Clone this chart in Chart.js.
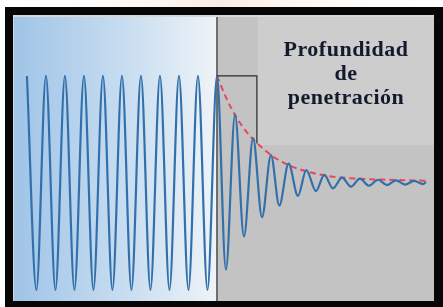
<!DOCTYPE html>
<html>
<head>
<meta charset="utf-8">
<script src="https://cdn.jsdelivr.net/npm/chart.js@4.4.1/dist/chart.umd.min.js"></script>
<style>
    html, body { margin: 0; padding: 0; background: #fff; overflow: hidden; }
    #wrap { position: relative; width: 443px; height: 307px; }
    canvas { display: block; }
    #label {
        position: absolute; left: 258px; width: 176px; top: 37px;
        text-align: center; font: bold 22px "Liberation Serif", "DejaVu Serif", serif;
        letter-spacing: 0.5px; line-height: 24px; color: #141a2c;
    }
</style>
</head>
<body>
<div id="wrap">
    <canvas id="waveChart" width="443" height="307"></canvas>
    <div id="label">Profundidad<br>de<br>penetración</div>
</div>
<script>
// wave: peaks and troughs, x in wave units (0 = surface), y in amplitude
const waveX = [-10, -9.5, -9, -8.5, -8, -7.5, -7, -6.5, -6, -5.5, -5, -4.5, -4, -3.5, -3, -2.5, -2, -1.5, -1, -0.5, 0,
    0.47, 0.95, 1.42, 1.9, 2.37, 2.84, 3.28, 3.77, 4.26, 4.7, 5.21, 5.65, 6.1, 6.58, 7.05, 7.52, 8.0, 8.47, 8.95, 9.42, 9.9, 10.37, 10.85, 11.0];
const waveY = [1, -1, 1, -1, 1, -1, 1, -1, 1, -1, 1, -1, 1, -1, 1, -1, 1, -1, 1, -1, 1,
    -0.81, 0.64, -0.5, 0.42, -0.32, 0.26, -0.21, 0.18, -0.12, 0.12, -0.075, 0.075, -0.05, 0.05, -0.035, 0.04, -0.025, 0.03, -0.02, 0.025, -0.015, 0.02, -0.01, 0.01];

// decay envelope (red dashed)
const envX = [0, 0.5, 1, 1.5, 2, 2.5, 3, 3.5, 4, 5, 6, 7, 8, 9, 10, 11.1];
const envY = [1, 0.79, 0.62, 0.49, 0.39, 0.31, 0.24, 0.19, 0.15, 0.095, 0.06, 0.045, 0.035, 0.03, 0.025, 0.02];

// penetration depth box
const depthX = [0, 2.1, 2.1];
const depthY = [1, 1, 0.37];

const xRange = [-10.68, 11.42];
const yRange = [-1.103, 1.551];

function toPoints(xs, ys) {
    return xs.map((v, i) => ({ x: v, y: ys[i] }));
}

const panels = {
    id: 'panels',
    beforeDraw(chart) {
        const { ctx, chartArea: a, scales: { x, y } } = chart;
        const W = chart.width, H = chart.height;
        ctx.save();
        ctx.fillStyle = '#ffffff';
        ctx.fillRect(0, 0, W, H);
        const glow = ctx.createLinearGradient(0, 0, W, 0);
        glow.addColorStop(0, 'rgba(255,255,255,0)');
        glow.addColorStop(0.5, 'rgba(250,225,205,0.6)');
        glow.addColorStop(1, 'rgba(255,255,255,0)');
        ctx.fillStyle = glow;
        ctx.fillRect(0, 0, W, 7);

        // black frame
        ctx.fillStyle = '#060606';
        ctx.fillRect(5, 7, W - 5, H - 7);

        const mid = x.getPixelForValue(0);
        // left panel: blue to white
        const g = ctx.createLinearGradient(a.left, 0, mid, 0);
        g.addColorStop(0, '#a0c4e7');
        g.addColorStop(0.55, '#c8ddf0');
        g.addColorStop(1, '#eef3f8');
        ctx.fillStyle = g;
        ctx.fillRect(a.left, a.top, mid - a.left, a.bottom - a.top);

        // right panel grey
        ctx.fillStyle = '#c3c3c3';
        ctx.fillRect(mid, a.top, a.right - mid, a.bottom - a.top);
        // lighter box behind the label
        const bx = x.getPixelForValue(2.15);
        ctx.fillStyle = '#cdcdcd';
        ctx.fillRect(bx, a.top, a.right - bx, y.getPixelForValue(0.355) - a.top);

        // thin light inner edge
        ctx.fillStyle = '#d8d8d8';
        ctx.fillRect(a.left - 1, a.top - 2, a.right - a.left + 1, 2);
        ctx.fillRect(a.left - 1, a.top - 2, 1, a.bottom - a.top + 2);

        // divider
        ctx.strokeStyle = '#2a2a2a';
        ctx.lineWidth = 1.2;
        ctx.beginPath();
        ctx.moveTo(mid, a.top);
        ctx.lineTo(mid, a.bottom);
        ctx.stroke();
        ctx.restore();
    }
};

const ctx = document.getElementById('waveChart').getContext('2d');
new Chart(ctx, {
    type: 'line',
    data: {
        datasets: [
            {
                data: toPoints(depthX, depthY),
                borderColor: '#2b2b2b',
                borderWidth: 1.2,
                pointRadius: 0,
                tension: 0
            },
            {
                data: toPoints(waveX, waveY),
                borderColor: '#3270ab',
                borderWidth: 2.2,
                pointRadius: 0,
                cubicInterpolationMode: 'monotone'
            },
            {
                data: toPoints(envX, envY),
                borderColor: '#e6475e',
                borderWidth: 2,
                borderDash: [6, 4],
                pointRadius: 0,
                cubicInterpolationMode: 'monotone'
            }
        ]
    },
    options: {
        responsive: false,
        animation: false,
        devicePixelRatio: 1,
        layout: { padding: { left: 14, top: 17, right: 9, bottom: 6 } },
        plugins: {
            legend: { display: false },
            tooltip: { enabled: false }
        },
        scales: {
            x: { type: 'linear', min: xRange[0], max: xRange[1], display: false },
            y: { type: 'linear', min: yRange[0], max: yRange[1], display: false }
        }
    },
    plugins: [panels]
});
</script>
</body>
</html>
